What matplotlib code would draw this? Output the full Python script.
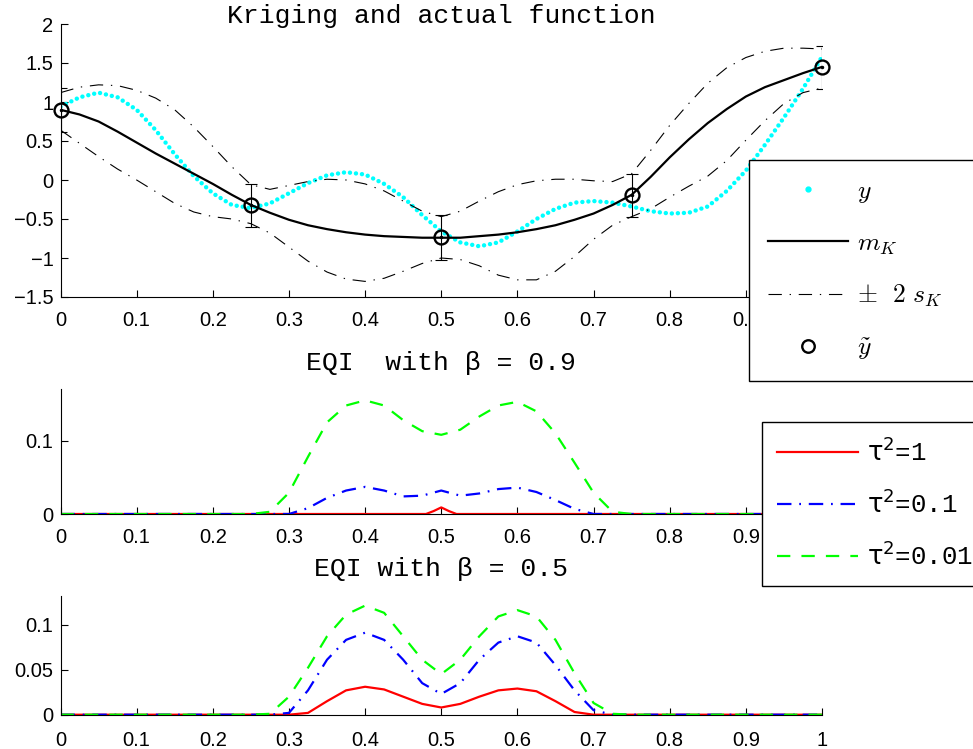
import numpy as np
import matplotlib
matplotlib.use("Agg")
import matplotlib.pyplot as plt
from matplotlib.lines import Line2D
from matplotlib.font_manager import FontProperties

# sample positions used for every curve (step 0.025)
x = np.linspace(0, 1, 41)

# top panel: actual function, kriging mean and +/- 2 s_K band
y_true = [0.94, 1.06, 1.12, 1.06, 0.90, 0.64, 0.33, 0.05, -0.17, -0.32,
          -0.36, -0.30, -0.17, -0.04, 0.06, 0.10, 0.07, -0.05, -0.22, -0.45,
          -0.66, -0.80, -0.85, -0.80, -0.66, -0.50, -0.37, -0.29, -0.27, -0.29,
          -0.34, -0.40, -0.43, -0.42, -0.34, -0.14, 0.12, 0.45, 0.80, 1.17, 1.58]
m_k = [0.90, 0.84, 0.75, 0.62, 0.48, 0.34, 0.21, 0.08, -0.05, -0.19,
       -0.32, -0.42, -0.51, -0.58, -0.63, -0.67, -0.70, -0.72, -0.73, -0.74,
       -0.74, -0.74, -0.72, -0.70, -0.67, -0.63, -0.58, -0.51, -0.43, -0.32,
       -0.19, 0.04, 0.29, 0.52, 0.73, 0.91, 1.07, 1.19, 1.28, 1.37, 1.45]
upper = [1.12, 1.19, 1.22, 1.21, 1.15, 1.05, 0.90, 0.68, 0.43, 0.17,
         -0.06, -0.12, -0.07, -0.02, 0.01, 0.00, -0.05, -0.14, -0.27, -0.40,
         -0.47, -0.40, -0.27, -0.15, -0.06, -0.01, 0.01, 0.01, -0.01, -0.02,
         0.08, 0.38, 0.70, 0.98, 1.24, 1.44, 1.57, 1.65, 1.69, 1.69, 1.68]
lower = [0.64, 0.47, 0.30, 0.14, 0.00, -0.15, -0.30, -0.41, -0.47, -0.50,
         -0.56, -0.68, -0.86, -1.04, -1.18, -1.27, -1.30, -1.26, -1.17, -1.07,
         -1.00, -1.02, -1.10, -1.22, -1.28, -1.28, -1.17, -0.98, -0.76, -0.58,
         -0.47, -0.37, -0.22, -0.08, 0.05, 0.25, 0.51, 0.76, 0.98, 1.12, 1.18]

x_obs = [0, 0.25, 0.5, 0.75, 1]
y_obs = [0.90, -0.325, -0.735, -0.195, 1.445]
err_obs = [0.28, 0.275, 0.285, 0.275, 0.275]

# EQI, beta = 0.9
x_red09 = [0, 0.48, 0.49, 0.5, 0.51, 0.52, 1]
eqi09_t1 = [0, 0, 0.004, 0.009, 0.004, 0, 0]
eqi09_t01 = [0] * 13 + [0.008, 0.022, 0.032, 0.037, 0.032, 0.024, 0.025, 0.032, 0.025,
                        0.028, 0.034, 0.036, 0.030, 0.019, 0.007] + [0] * 13
eqi09_t001 = [0] * 11 + [0.003, 0.029, 0.078, 0.125, 0.148, 0.155, 0.148, 0.128, 0.113,
                         0.108, 0.115, 0.133, 0.148, 0.153, 0.140, 0.110, 0.070, 0.029,
                         0.003] + [0] * 11

# EQI, beta = 0.5
eqi05_t1 = [0] * 13 + [0.002, 0.015, 0.027, 0.031, 0.028, 0.020, 0.012, 0.008, 0.012,
                       0.020, 0.027, 0.029, 0.026, 0.015, 0.003] + [0] * 13
eqi05_t01 = [0] * 12 + [0.002, 0.027, 0.061, 0.083, 0.091, 0.083, 0.061, 0.035, 0.023,
                        0.035, 0.061, 0.080, 0.087, 0.080, 0.055, 0.027, 0.005] + [0] * 12
eqi05_t001 = [0] * 11 + [0.001, 0.020, 0.052, 0.087, 0.111, 0.121, 0.113, 0.087, 0.061,
                         0.045, 0.061, 0.087, 0.109, 0.116, 0.109, 0.083, 0.046, 0.013,
                         0.001] + [0] * 11

xticks = [0, 0.1, 0.2, 0.3, 0.4, 0.5, 0.6, 0.7, 0.8, 0.9, 1]
xticklabels = ["0", "0.1", "0.2", "0.3", "0.4", "0.5", "0.6", "0.7", "0.8", "0.9", "1"]
yticks_top = [-1.5, -1, -0.5, 0, 0.5, 1, 1.5, 2]
yticklabels_top = ["\u22121.5", "\u22121", "\u22120.5", "0", "0.5", "1", "1.5", "2"]
yticks_mid = [0, 0.1]
yticklabels_mid = ["0", "0.1"]
yticks_bot = [0, 0.05, 0.1]
yticklabels_bot = ["0", "0.05", "0.1"]

plt.rcParams['font.family'] = ['Liberation Sans', 'DejaVu Sans']
mono = 'Liberation Mono'

W, H = 973, 749
fig = plt.figure(figsize=(W / 100, H / 100), dpi=100)


def box(l, t, r, b):
    return [l / W, 1 - b / H, (r - l) / W, (b - t) / H]


def style(ax, xt, xtl, yt, ytl, xpad=10):
    for s in ['top', 'right']:
        ax.spines[s].set_visible(False)
    for s in ['left', 'bottom']:
        ax.spines[s].set_linewidth(0.8)
    ax.set_xlim(0, 1)
    ax.set_xticks(xt)
    ax.set_xticklabels(xtl)
    ax.set_yticks(yt)
    ax.set_yticklabels(ytl)
    ax.tick_params(direction='in', length=5, width=0.8, labelsize=14.5)
    ax.tick_params(axis='x', pad=xpad)
    ax.tick_params(axis='y', pad=5)


band_ls = (0, (12, 7, 1.2, 7))

ax1 = fig.add_axes(box(60.5, 24, 822, 297))
ax1.plot(x, y_true, color='cyan', lw=3.2, linestyle=(0, (0.01, 1.35)),
         dash_capstyle='round')
ax1.plot(x, m_k, color='k', lw=1.6)
ax1.plot(x, upper, color='k', lw=0.8, linestyle=band_ls)
ax1.plot(x, lower, color='k', lw=0.8, linestyle=band_ls)
ax1.errorbar(x_obs, y_obs, yerr=err_obs, fmt='none', ecolor='k', elinewidth=0.8,
             capsize=4.5, capthick=0.8)
ax1.plot(x_obs, y_obs, 'o', mfc='none', mec='k', ms=10, mew=1.7, clip_on=False, zorder=5)
ax1.plot(x_obs, y_obs, '.', color='k', ms=3, clip_on=False, zorder=5)
ax1.set_ylim(-1.5, 2)
style(ax1, xticks, xticklabels, yticks_top, yticklabels_top)
ax1.set_title("Kriging and actual function", fontfamily=mono, fontsize=19, y=1.0, pad=1)

blue_ls = (0, (6.5, 3.5, 0.8, 3.5))
green_ls = (0, (6, 5))

ax2 = fig.add_axes(box(60.5, 389, 822, 514))
ax2.plot(x_red09, eqi09_t1, color='red', lw=1.6)
ax2.plot(x, eqi09_t01, color='blue', lw=1.6, linestyle=blue_ls)
ax2.plot(x, eqi09_t001, color='lime', lw=1.6, linestyle=green_ls)
ax2.set_ylim(0, 0.1705)
style(ax2, xticks, xticklabels, yticks_mid, yticklabels_mid)
ax2.set_title("EQI  with \u03b2 = 0.9", fontfamily=mono, fontsize=19, y=1.0, pad=14)

ax3 = fig.add_axes(box(60.5, 595.7, 822, 714.7))
ax3.plot(x, eqi05_t1, color='red', lw=1.6)
ax3.plot(x, eqi05_t01, color='blue', lw=1.6, linestyle=blue_ls)
ax3.plot(x, eqi05_t001, color='lime', lw=1.6, linestyle=green_ls)
ax3.set_ylim(0, 0.132)
style(ax3, xticks, xticklabels, yticks_bot, yticklabels_bot, xpad=12)
ax3.set_title("EQI with \u03b2 = 0.5", fontfamily=mono, fontsize=19, y=1.0, pad=14)

# legends
h1 = [Line2D([], [], ls='none', marker='.', color='cyan', ms=7),
      Line2D([], [], color='k', lw=1.6),
      Line2D([], [], color='k', lw=0.8, linestyle=band_ls),
      Line2D([], [], ls='none', marker='o', mfc='none', mec='k', ms=9, mew=1.7)]
l1 = [r"$y$", r"$m_K$", r"$\pm\ \ 2\ s_K$", r"$\tilde{y}$"]
leg1 = fig.legend(h1, l1, loc='upper left', bbox_to_anchor=(749 / W, 1 - 160 / H, 0.3, 0),
                  mode='expand', borderaxespad=0, borderpad=0.75, labelspacing=1.02,
                  handlelength=3.1, handletextpad=0.35, fancybox=False, framealpha=1,
                  edgecolor='k', prop=FontProperties(size=18.5, math_fontfamily='cm'))
leg1.get_frame().set_linewidth(1.0)

h2 = [Line2D([], [], color='red', lw=1.6),
      Line2D([], [], color='blue', lw=1.6, linestyle=blue_ls),
      Line2D([], [], color='lime', lw=1.6, linestyle=green_ls)]
l2 = [r"$\mathrm{\tau}^2$=1", r"$\mathrm{\tau}^2$=0.1", r"$\mathrm{\tau}^2$=0.01"]
leg2 = fig.legend(h2, l2, loc='upper left', bbox_to_anchor=(762 / W, 1 - 422 / H, 0.3, 0),
                  mode='expand', borderaxespad=0, borderpad=0.6, labelspacing=0.92,
                  handlelength=3.15, handletextpad=0.35, fancybox=False, framealpha=1,
                  edgecolor='k',
                  prop=FontProperties(family=mono, size=18.5, math_fontfamily='dejavusans'))
leg2.get_frame().set_linewidth(1.0)

fig.savefig("out.png", dpi=100)
